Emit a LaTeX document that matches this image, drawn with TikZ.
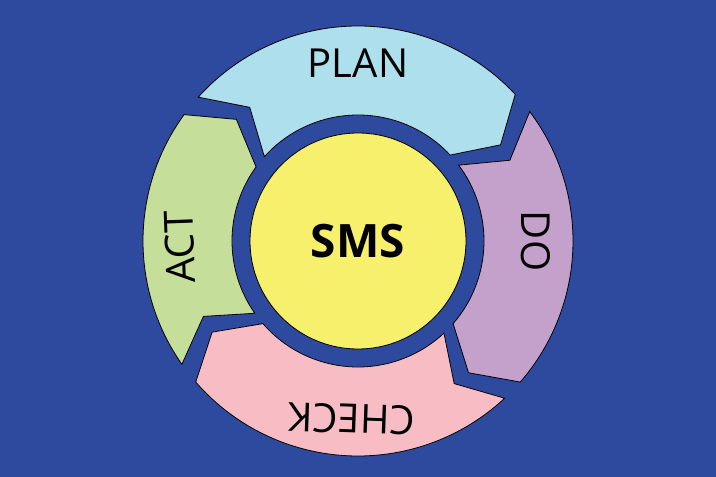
\documentclass[tikz,border=0pt]{standalone}
\usepackage{fontspec}
\setmainfont{Open Sans}
\definecolor{bgblue}{HTML}{2E4A9E}
\definecolor{planc}{HTML}{ADE0EC}
\definecolor{doc}{HTML}{C4A1CB}
\definecolor{checkc}{HTML}{F8BDC4}
\definecolor{actc}{HTML}{C5DE9A}
\definecolor{smsc}{HTML}{F6F06C}
\tikzset{
  seglabel/.style={font=\fontsize{40}{40}\selectfont, inner sep=0pt},
  segment/.style={draw=black, line width=0.8pt}
}
\begin{document}
\begin{tikzpicture}[x=1pt,y=1pt]
\fill[bgblue] (0,0) rectangle (716,477);
\useasboundingbox (0,0) rectangle (716,477);
% ring of four arrows
\begin{scope}[shift={(358,236)}]
\foreach \a/\b/\c/\t/\m in {138/43/planc/PLAN/90, 37/-41/doc/DO/0, -47/-139/checkc/CHECK/-92, -145/-216/actc/ACT/182}{
  \draw[segment, fill=\c] (\a:215) arc[start angle=\a, end angle=\b, radius=215]
    -- ({\b-9}:172) -- (\b:126) arc[start angle=\b, end angle=\a, radius=126]
    -- ({\a-9}:172) -- cycle;
  \node[seglabel, rotate=\m-90] (\t) at (\m:178) {\t};
}
\node[draw=black, line width=0.8pt, fill=smsc, circle, minimum size=216pt,
  font=\fontsize{46}{46}\selectfont\bfseries] (sms) at (0,0) {SMS};
\end{scope}
\end{tikzpicture}
\end{document}
